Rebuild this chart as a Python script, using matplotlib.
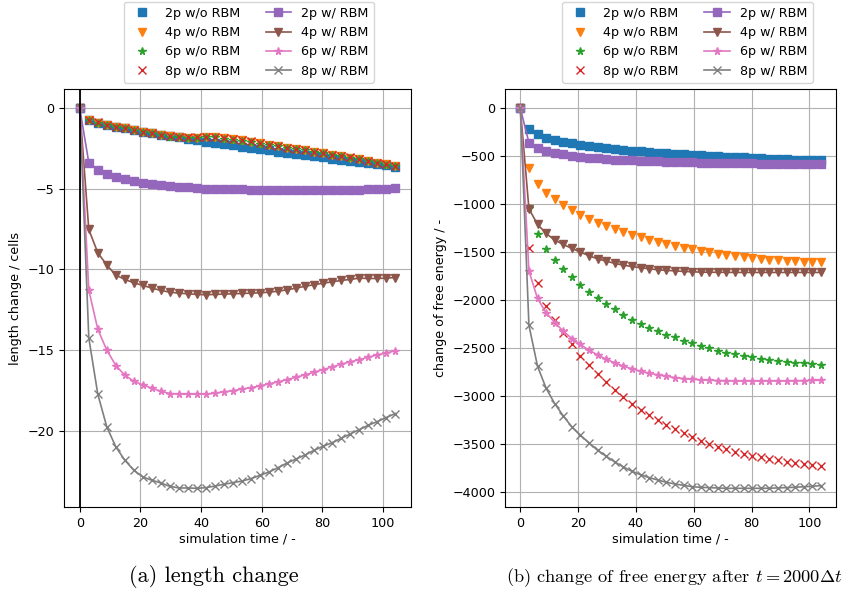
import matplotlib
matplotlib.use("Agg")
import matplotlib.pyplot as plt

plt.rcParams['font.family'] = ['DejaVu Sans']
plt.rcParams['font.size'] = 9.2
plt.rcParams['mathtext.fontset'] = 'cm'

# simulation time
t = [0, 2.97, 5.94, 8.91, 11.89, 14.86, 17.83, 20.8, 23.77, 26.74, 29.71, 32.69,
     35.66, 38.63, 41.6, 44.57, 47.54, 50.51, 53.49, 56.46, 59.43, 62.4, 65.37,
     68.34, 71.31, 74.29, 77.26, 80.23, 83.2, 86.17, 89.14, 92.11, 95.09, 98.06,
     101.03, 104.0]

labels_wo = ["2p w/o RBM", "4p w/o RBM", "6p w/o RBM", "8p w/o RBM"]
labels_w = ["2p w/ RBM", "4p w/ RBM", "6p w/ RBM", "8p w/ RBM"]

# (a) length change / cells
len_2p_wo = [0, -0.73, -0.89, -1.04, -1.14, -1.24, -1.35, -1.45, -1.55, -1.66, -1.74, -1.80,
             -1.89, -1.95, -2.07, -2.16, -2.24, -2.30, -2.38, -2.47, -2.53, -2.61, -2.70, -2.76,
             -2.84, -2.90, -2.98, -3.05, -3.13, -3.19, -3.27, -3.34, -3.42, -3.48, -3.54, -3.63]
len_4p_wo = [0, -0.73, -0.89, -1.04, -1.14, -1.24, -1.35, -1.45, -1.55, -1.66, -1.74, -1.80,
             -1.82, -1.82, -1.78, -1.80, -1.87, -1.93, -1.99, -2.07, -2.18, -2.28, -2.34, -2.45,
             -2.53, -2.59, -2.70, -2.78, -2.90, -2.98, -3.06, -3.15, -3.27, -3.38, -3.48, -3.58]
len_6p_wo = [0, -0.74, -0.90, -1.03, -1.15, -1.25, -1.36, -1.46, -1.56, -1.67, -1.75, -1.81,
             -1.83, -1.83, -1.79, -1.81, -1.88, -1.94, -2.00, -2.08, -2.19, -2.29, -2.35, -2.46,
             -2.54, -2.60, -2.71, -2.79, -2.91, -2.99, -3.07, -3.16, -3.28, -3.39, -3.49, -3.59]
len_8p_wo = [0, -0.72, -0.88, -1.03, -1.13, -1.23, -1.34, -1.44, -1.54, -1.65, -1.73, -1.79,
             -1.81, -1.81, -1.77, -1.79, -1.86, -1.92, -1.98, -2.06, -2.17, -2.27, -2.33, -2.44,
             -2.52, -2.58, -2.69, -2.77, -2.89, -2.97, -3.05, -3.14, -3.26, -3.37, -3.47, -3.57]
len_2p_w = [0, -3.37, -3.83, -4.10, -4.29, -4.41, -4.53, -4.64, -4.72, -4.78, -4.84, -4.89,
            -4.91, -4.95, -4.99, -5.01, -5.01, -5.02, -5.03, -5.04, -5.05, -5.07, -5.08, -5.09,
            -5.09, -5.09, -5.09, -5.09, -5.08, -5.07, -5.06, -5.05, -5.03, -5.01, -4.99, -4.97]
len_4p_w = [0, -7.52, -8.96, -9.73, -10.35, -10.62, -10.83, -10.99, -11.16, -11.30, -11.41,
            -11.47, -11.51, -11.55, -11.57, -11.55, -11.53, -11.51, -11.49, -11.47, -11.45,
            -11.41, -11.35, -11.26, -11.16, -11.04, -10.95, -10.85, -10.77, -10.68, -10.62,
            -10.54, -10.56, -10.56, -10.54, -10.50]
len_6p_w = [0, -11.28, -13.71, -15.01, -15.96, -16.56, -16.94, -17.16, -17.37, -17.56, -17.70,
            -17.74, -17.74, -17.74, -17.74, -17.68, -17.60, -17.52, -17.43, -17.33, -17.23,
            -17.10, -16.98, -16.83, -16.69, -16.54, -16.38, -16.21, -16.05, -15.88, -15.74,
            -15.59, -15.45, -15.30, -15.18, -15.05]
len_8p_w = [0, -14.24, -17.74, -19.77, -21.01, -21.84, -22.46, -22.88, -23.08, -23.25, -23.46,
            -23.56, -23.56, -23.58, -23.54, -23.44, -23.33, -23.23, -23.13, -22.98, -22.77,
            -22.57, -22.30, -22.01, -21.76, -21.51, -21.22, -20.97, -20.75, -20.48, -20.21,
            -19.94, -19.67, -19.44, -19.19, -18.94]

# (b) change of free energy
E_2p_wo = [0, -219, -268, -306, -330, -348, -365, -379, -393, -403, -414, -424, -431, -442,
           -449, -456, -463, -470, -476, -480, -487, -490, -497, -501, -504, -508, -511, -518,
           -522, -525, -529, -532, -536, -536, -539, -543]
E_4p_wo = [0, -626, -790, -887, -950, -1012, -1064, -1113, -1158, -1193, -1228, -1263, -1294,
           -1322, -1346, -1370, -1395, -1416, -1436, -1454, -1471, -1489, -1503, -1516, -1527,
           -1537, -1548, -1558, -1569, -1579, -1586, -1593, -1596, -1600, -1603, -1607]
E_6p_wo = [0, -1040, -1311, -1471, -1583, -1680, -1763, -1840, -1913, -1979, -2042, -2097,
           -2153, -2202, -2247, -2285, -2323, -2358, -2389, -2421, -2449, -2476, -2501, -2525,
           -2546, -2563, -2581, -2595, -2609, -2622, -2633, -2643, -2650, -2657, -2664, -2671]
E_8p_wo = [0, -1461, -1826, -2059, -2209, -2337, -2462, -2577, -2678, -2768, -2855, -2935,
           -3012, -3081, -3141, -3200, -3252, -3301, -3346, -3388, -3426, -3464, -3499, -3527,
           -3555, -3579, -3600, -3621, -3638, -3656, -3669, -3683, -3697, -3708, -3718, -3728]
E_2p_w = [0, -358, -417, -442, -466, -480, -494, -504, -515, -522, -529, -536, -539, -543,
          -546, -550, -553, -557, -557, -560, -563, -567, -567, -570, -570, -574, -574, -575,
          -576, -577, -577, -578, -579, -580, -580, -581]
E_4p_w = [0, -1047, -1210, -1304, -1374, -1419, -1461, -1499, -1537, -1569, -1593, -1617,
          -1635, -1649, -1662, -1673, -1683, -1690, -1694, -1701, -1704, -1708, -1709, -1710,
          -1710, -1711, -1711, -1711, -1711, -1711, -1711, -1711, -1711, -1711, -1711, -1711]
E_6p_w = [0, -1694, -1982, -2132, -2233, -2323, -2400, -2462, -2522, -2570, -2615, -2654,
          -2688, -2716, -2741, -2762, -2779, -2793, -2807, -2817, -2824, -2831, -2835, -2838,
          -2840, -2841, -2842, -2842, -2842, -2842, -2842, -2841, -2840, -2839, -2837, -2835]
E_8p_w = [0, -2261, -2688, -2918, -3078, -3207, -3321, -3408, -3488, -3565, -3627, -3687,
          -3739, -3784, -3819, -3850, -3874, -3899, -3916, -3930, -3944, -3951, -3954, -3958,
          -3961, -3961, -3961, -3961, -3961, -3960, -3957, -3954, -3950, -3945, -3940, -3933]

markers = ['s', 'v', '*', 'x']
colors_wo = ['tab:blue', 'tab:orange', 'tab:green', 'tab:red']
colors_w = ['tab:purple', 'tab:brown', 'tab:pink', 'tab:gray']

fig = plt.figure(figsize=(8.49, 5.92), dpi=100)
W, H = 849, 592
ax1 = fig.add_axes([64 / W, 1 - 507.3 / H, (411 - 64) / W, (507.3 - 89.3) / H])
ax2 = fig.add_axes([505.3 / W, 1 - 507.3 / H, (836 - 505.3) / W, (507.3 - 89.3) / H])


def draw(ax, wo, w, ylabel, legx):
    for ys, m, c, lab in zip(wo, markers, colors_wo, labels_wo):
        ax.plot(t, ys, linestyle='none', marker=m, color=c, markersize=5.5, label=lab)
    for ys, m, c, lab in zip(w, markers, colors_w, labels_w):
        ax.plot(t, ys, linestyle='-', marker=m, color=c, markersize=5.5, lw=1.2, label=lab)
    ax.grid(True)
    ax.set_xlabel("simulation time / -", labelpad=2)
    ax.set_ylabel(ylabel)
    ax.legend(loc='lower center', bbox_to_anchor=(legx, 1.0), ncol=2)


draw(ax1, [len_2p_wo, len_4p_wo, len_6p_wo, len_8p_wo],
     [len_2p_w, len_4p_w, len_6p_w, len_8p_w], "length change / cells", 0.533)
ax1.axvline(0, color='k', lw=1.3)
draw(ax2, [E_2p_wo, E_4p_wo, E_6p_wo, E_8p_wo],
     [E_2p_w, E_4p_w, E_6p_w, E_8p_w], "change of free energy / -", 0.551)

fig.text(214 / W, 1 - 577 / H, '(a) length change', ha='center', va='center',
         fontsize=16, family='cmr10')
fig.text(674 / W, 1 - 578 / H,
         r'(b) change of free energy after $t = 2000\Delta t$',
         ha='center', va='center', fontsize=13.2, family='cmr10')

fig.savefig("out.png", dpi=100)
